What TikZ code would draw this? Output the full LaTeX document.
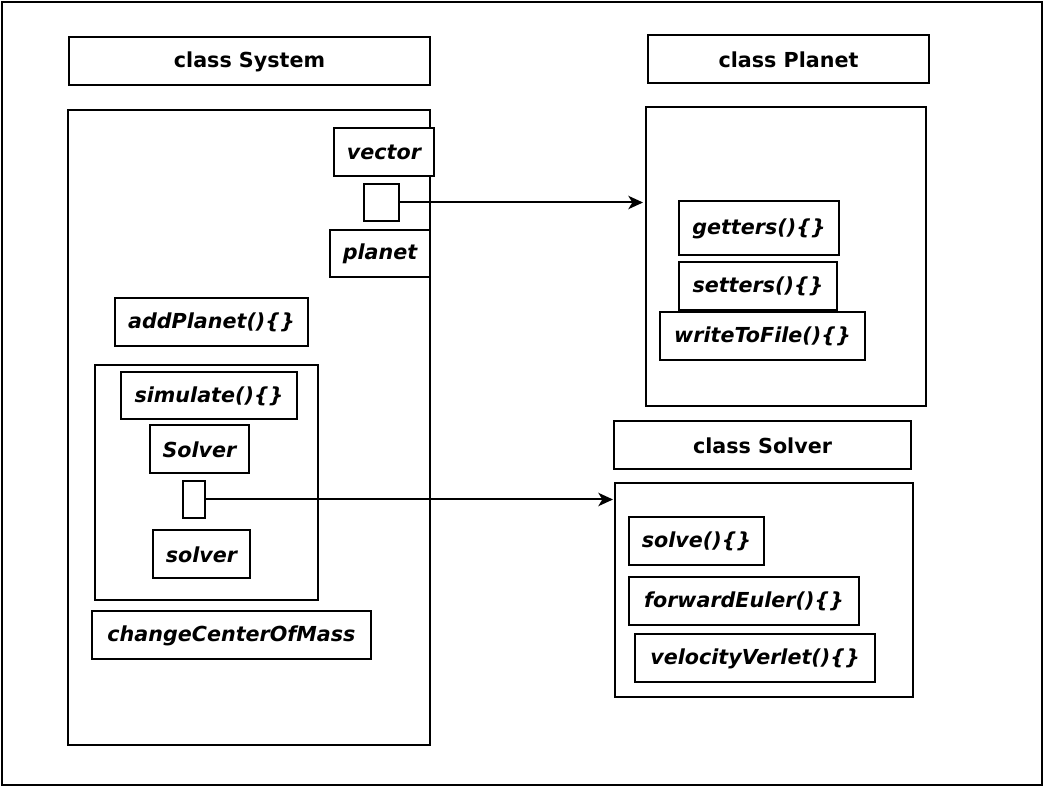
\documentclass[tikz,border=0pt]{standalone}
\usepackage{fontspec}
\setmainfont{DejaVu Sans}
\usetikzlibrary{fit,arrows.meta}
\tikzset{
  px/.style={x=0.75pt,y=-0.75pt},
  frame/.style={draw=black,line width=1.5pt,fill=none,inner sep=0pt},
  box/.style={draw=black,line width=1.5pt,fill=white,inner sep=0pt},
  lblb/.style={inner sep=0pt,yshift=-0.6pt,font=\fontsize{15.5}{18}\selectfont\bfseries},
  lbli/.style={inner sep=0pt,yshift=-0.6pt,font=\fontsize{15.5}{18}\selectfont\bfseries\itshape},
  conn/.style={draw=black,line width=1.5pt,-{Stealth[length=11pt,width=10pt,inset=3pt]}}
}
\begin{document}
\begin{tikzpicture}[px]
\useasboundingbox (0,0) rectangle (1043,787);
\node[frame,fit={(2,2)(1042,785)}] (outer) {};
% System
\node[box,fit={(69,37)(430,85)},label={[lblb]center:class System}] (systitle) {};
\node[frame,fit={(68,110)(430,745)}] (sysbody) {};
\node[box,fit={(334,128)(434,176)},label={[lbli]center:vector}] (vector) {};
\node[box,fit={(364,184)(399,221)}] (vecsq) {};
\node[box,fit={(330,230)(430,277)},label={[lbli]center:planet}] (planet) {};
\node[box,fit={(115,298)(308,346)},label={[lbli]center:addPlanet()\{\}}] (addplanet) {};
\node[frame,fit={(95,365)(318,600)}] (simbox) {};
\node[box,fit={(121,372)(297,419)},label={[lbli]center:simulate()\{\}}] (simulate) {};
\node[box,fit={(150,425)(249,473)},label={[lbli]center:Solver}] (SolverT) {};
\node[box,fit={(183,481)(205,518)}] (solsq) {};
\node[box,fit={(153,530)(250,578)},label={[lbli]center:solver}] (solver) {};
\node[box,fit={(92,611)(371,659)},label={[lbli]center:changeCenterOfMass}] (ccm) {};
% Planet
\node[box,fit={(648,35)(929,83)},label={[lblb]center:class Planet}] (pltitle) {};
\node[frame,fit={(646,107)(926,406)}] (plbody) {};
\node[box,fit={(679,201)(839,255)},label={[lbli]center:getters()\{\}}] (getters) {};
\node[box,fit={(679,262)(837,310)},label={[lbli]center:setters()\{\}}] (setters) {};
\node[box,fit={(660,312)(865,360)},label={[lbli]center:writeToFile()\{\}}] (write) {};
% Solver
\node[box,fit={(614,421)(911,469)},label={[lblb]center:class Solver}] (soltitle) {};
\node[frame,fit={(615,483)(913,697)}] (solbody) {};
\node[box,fit={(629,517)(764,565)},label={[lbli]center:solve()\{\}}] (solve) {};
\node[box,fit={(629,577)(859,625)},label={[lbli]center:forwardEuler()\{\}}] (fe) {};
\node[box,fit={(635,634)(875,682)},label={[lbli]center:velocityVerlet()\{\}}] (vv) {};
% connectors
\coordinate (plin) at (643,202);
\coordinate (solin) at (613,500);
\draw[conn] (vecsq.east) -- (vecsq.east -| plin);
\draw[conn] (solsq.east) -- (solsq.east -| solin);
\end{tikzpicture}
\end{document}
